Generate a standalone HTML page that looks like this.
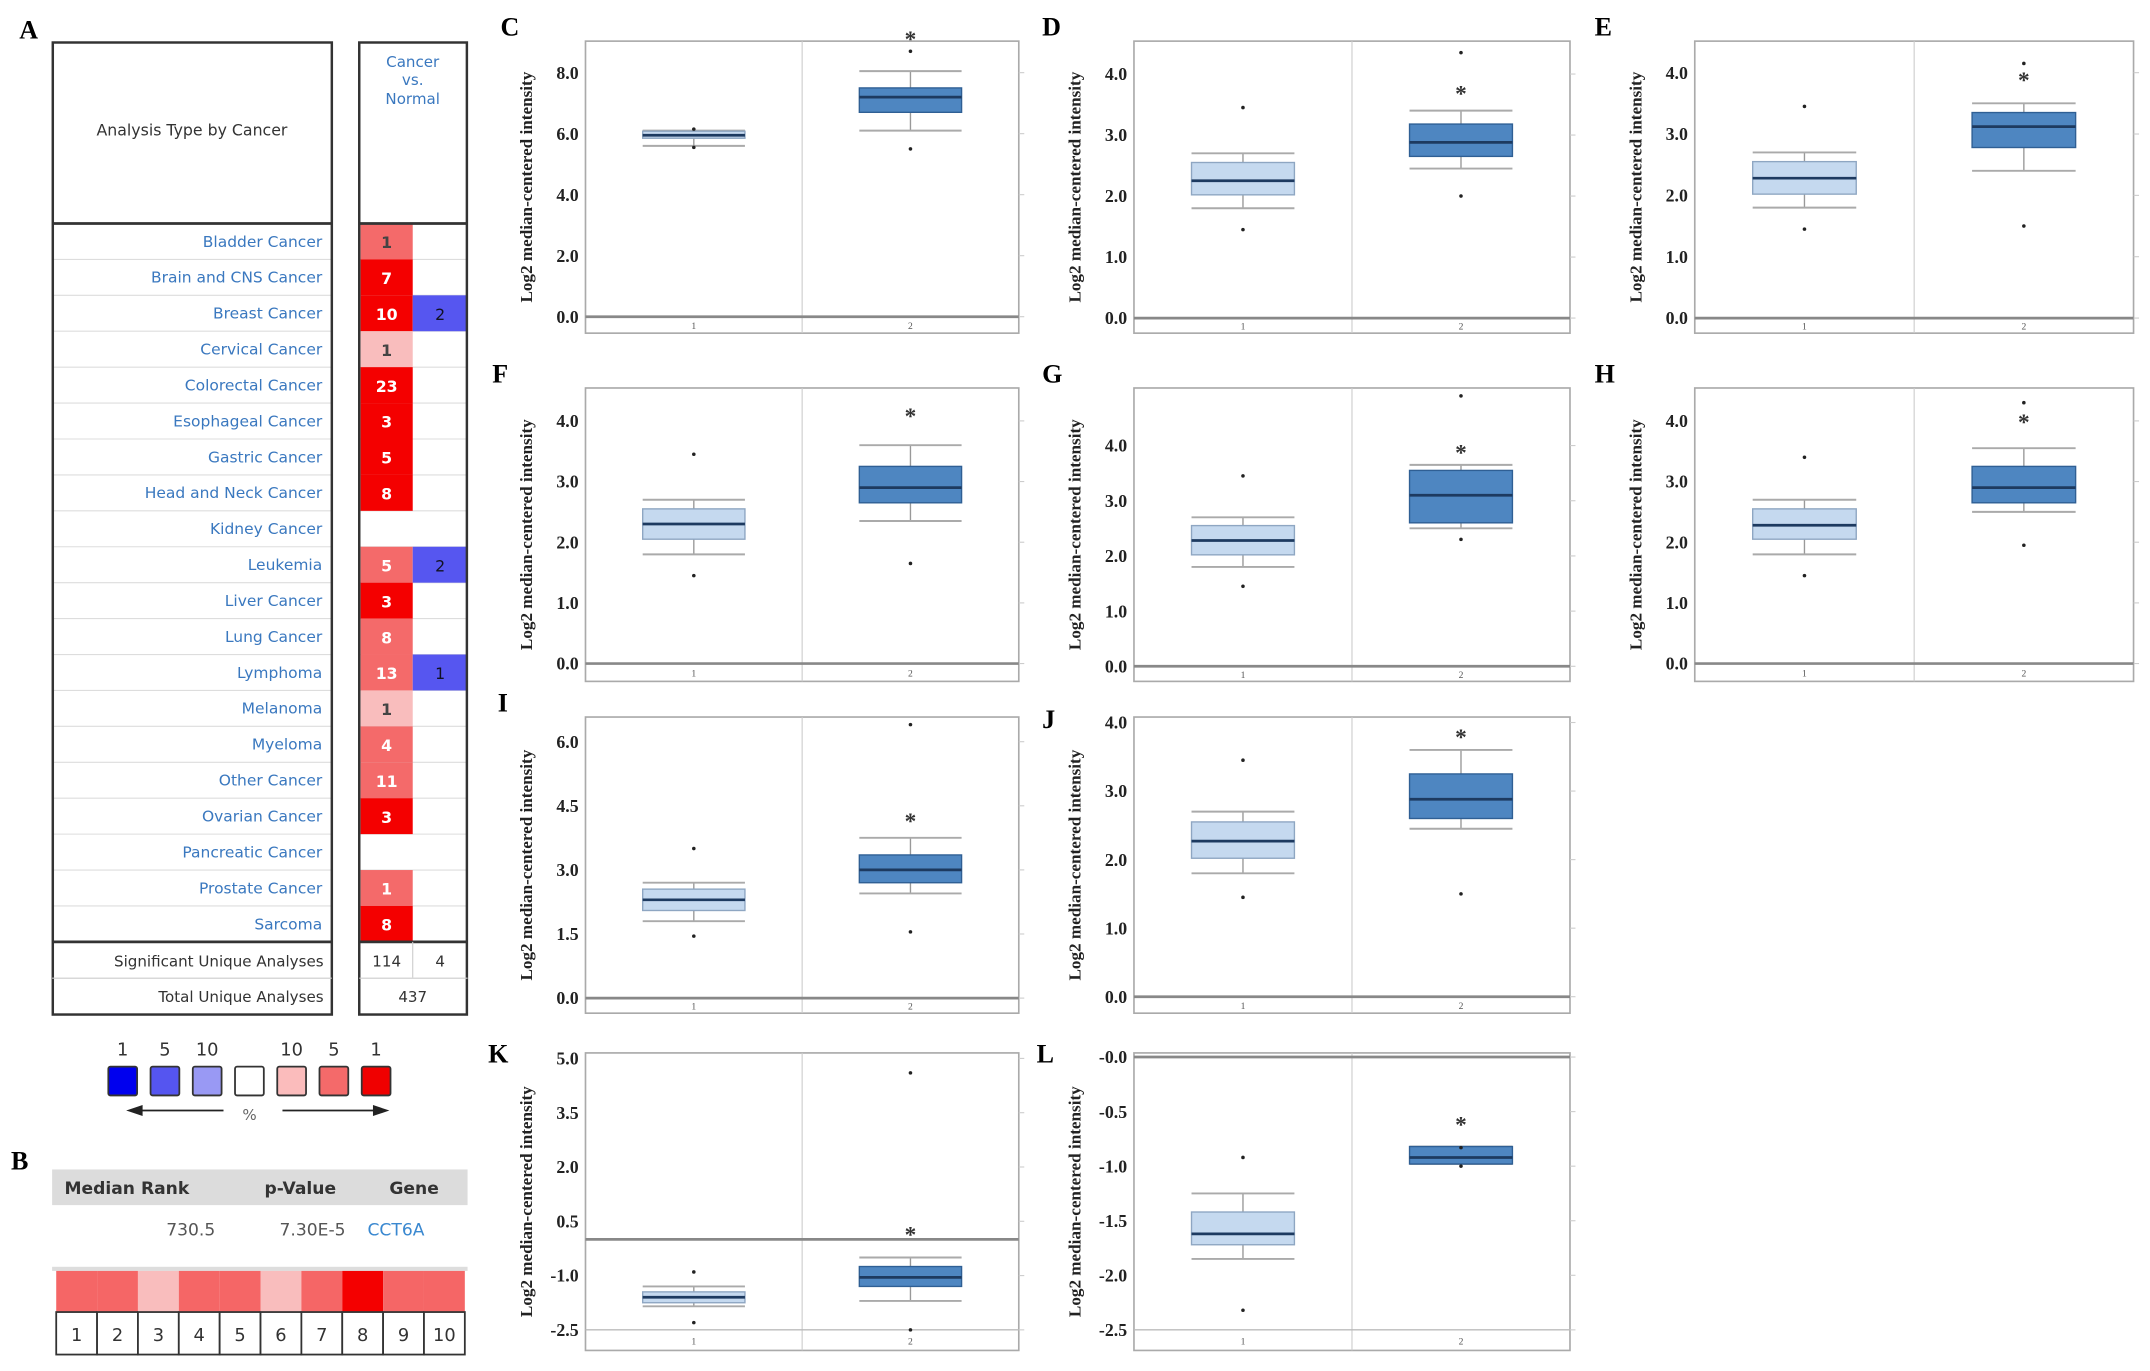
<!DOCTYPE html>
<html><head><meta charset="utf-8"><style>
html,body{margin:0;padding:0;background:#fff;}
svg{display:block;}
.lbl{font-family:"Liberation Serif",serif;font-weight:bold;}
.tbl{font-family:"DejaVu Sans","Liberation Sans",sans-serif;}
</style></head><body>
<svg id="fig" width="2150" height="1371" viewBox="0 0 1568 1000" preserveAspectRatio="none" xmlns="http://www.w3.org/2000/svg">
<rect x="0" y="0" width="1568" height="1000" fill="#fff"/>
</svg>
<script>
// ---------- Panel A data ----------
const cancerTypes = ['Bladder Cancer','Brain and CNS Cancer','Breast Cancer','Cervical Cancer','Colorectal Cancer','Esophageal Cancer','Gastric Cancer','Head and Neck Cancer','Kidney Cancer','Leukemia','Liver Cancer','Lung Cancer','Lymphoma','Melanoma','Myeloma','Other Cancer','Ovarian Cancer','Pancreatic Cancer','Prostate Cancer','Sarcoma'];
const upCounts = [1,7,10,1,23,3,5,8,0,5,3,8,13,1,4,11,3,0,1,8];
const upLevel = [2,3,3,1,3,3,3,3,0,2,3,2,2,1,2,2,3,0,2,3];
const downCounts = [0,0,2,0,0,0,0,0,0,2,0,0,1,0,0,0,0,0,0,0];
const legendLabels = ['1','5','10','','10','5','1'];
// ---------- Panel B data ----------
const rankCols = ['1','2','3','4','5','6','7','8','9','10'];
const rankLevel = [2,2,1,2,2,1,2,3,2,2];
// ---------- Box plot data: [lowWhisker, q1, median, q3, highWhisker] ----------
const panelNames = ['C','D','E','F','G','H','I','J','K','L'];
const normalStats = [[5.6,5.85,5.95,6.08,6.1],[1.8,2.02,2.25,2.55,2.7],[1.8,2.02,2.28,2.55,2.7],[1.8,2.05,2.3,2.55,2.7],[1.8,2.02,2.28,2.55,2.7],[1.8,2.05,2.28,2.55,2.7],[1.8,2.05,2.3,2.55,2.7],[1.8,2.02,2.27,2.55,2.7],[-1.85,-1.75,-1.6,-1.45,-1.3],[-1.85,-1.72,-1.62,-1.42,-1.25]];
const cancerStats = [[6.1,6.7,7.2,7.5,8.05],[2.45,2.65,2.88,3.18,3.4],[2.4,2.78,3.12,3.35,3.5],[2.35,2.65,2.9,3.25,3.6],[2.5,2.6,3.1,3.55,3.65],[2.5,2.65,2.9,3.25,3.55],[2.45,2.7,3.0,3.35,3.75],[2.45,2.6,2.88,3.25,3.6],[-1.7,-1.3,-1.05,-0.75,-0.5],[-0.98,-0.98,-0.92,-0.82,-0.82]];
const normalOutliers = [[6.15,5.55],[3.45,1.45],[3.45,1.45],[3.45,1.45],[3.45,1.45],[3.4,1.45],[3.5,1.45],[3.45,1.45],[-0.9,-2.3],[-0.92,-2.32]];
const cancerOutliers = [[8.7,5.5],[4.35,2.0],[4.15,1.5],[1.65],[4.9,2.3],[4.3,1.95],[6.4,1.55],[1.5],[4.6,-2.5],[-0.83,-1.0]];
const starValues = [9.25,3.75,3.95,4.15,3.95,4.05,4.25,3.85,0.25,-0.58];
const tickValues = [[0,2,4,6,8],[0,1,2,3,4],[0,1,2,3,4],[0,1,2,3,4],[0,1,2,3,4],[0,1,2,3,4],[0,1.5,3,4.5,6],[0,1,2,3,4],[-2.5,-1,0.5,2,3.5,5],[-2.5,-2,-1.5,-1,-0.5,0]];
const tickLabels = [['0.0','2.0','4.0','6.0','8.0'],['0.0','1.0','2.0','3.0','4.0'],['0.0','1.0','2.0','3.0','4.0'],['0.0','1.0','2.0','3.0','4.0'],['0.0','1.0','2.0','3.0','4.0'],['0.0','1.0','2.0','3.0','4.0'],['0.0','1.5','3.0','4.5','6.0'],['0.0','1.0','2.0','3.0','4.0'],['-2.5','-1.0','0.5','2.0','3.5','5.0'],['-2.5','-2.0','-1.5','-1.0','-0.5','-0.0']];
const groupLabels = ['1','2'];

const NS='http://www.w3.org/2000/svg';
const svg=document.getElementById('fig');
function mk(tag,attrs,parent,text){const e=document.createElementNS(NS,tag);for(const k in attrs)e.setAttribute(k,attrs[k]);if(text!==undefined)e.textContent=text;(parent||svg).appendChild(e);return e;}

// ---------- layout (positions only) ----------
const layouts = {
 C:{x0:427,x1:743,y0:30,y1:243,d:[0,8],r:[231,53],base:0},
 D:{x0:827,x1:1145,y0:30,y1:243,d:[0,4],r:[232,54],base:0},
 E:{x0:1236,x1:1556,y0:30,y1:243,d:[0,4],r:[232,53],base:0},
 F:{x0:427,x1:743,y0:283,y1:497,d:[0,4],r:[484,307],base:0},
 G:{x0:827,x1:1145,y0:283,y1:497,d:[0,4],r:[486,325],base:0},
 H:{x0:1236,x1:1556,y0:283,y1:497,d:[0,4],r:[484,307],base:0},
 I:{x0:427,x1:743,y0:523,y1:739,d:[0,6],r:[728,541],base:0},
 J:{x0:827,x1:1145,y0:523,y1:739,d:[0,4],r:[727,527],base:0},
 K:{x0:427,x1:743,y0:768,y1:985,d:[-2.5,5],r:[970,772],base:-2.5},
 L:{x0:827,x1:1145,y0:768,y1:985,d:[-2.5,0],r:[970,771],base:-2.5}
};
const labelPos = {C:[365,26],D:[760,26],E:[1163,26],F:[359,279],G:[760,279],H:[1163,279],I:[363,519],J:[760,531],K:[356,775],L:[756,775]};

panelNames.forEach((p,i)=>{
  const L=layouts[p];
  const y=v=>L.r[0]+(v-L.d[0])*(L.r[1]-L.r[0])/(L.d[1]-L.d[0]);
  const w=L.x1-L.x0;
  const cx=[L.x0+w*0.25,L.x0+w*0.75];
  const hw=w*0.118;
  const g=mk('g',{});
  
  
  const lab=mk('text',{x:labelPos[p][0],y:labelPos[p][1],'font-size':19,class:'lbl'},g,p);
  
  
  const frame=mk('rect',{x:L.x0,y:L.y0,width:w,height:L.y1-L.y0,fill:'#fff',stroke:'#aaa','stroke-width':1.2},g);
  
  
  mk('line',{x1:(L.x0+L.x1)/2,x2:(L.x0+L.x1)/2,y1:L.y0,y2:L.y1,stroke:'#ccc','stroke-width':0.8},g);
  for(let k=0;k<tickValues[i].length;k++){const ty=y(tickValues[i][k]);mk('line',{x1:L.x1,x2:L.x1+4,y1:ty,y2:ty,stroke:'#ccc','stroke-width':0.8},g);}
  const by=y(L.base);
  mk('line',{x1:L.x0,x2:L.x1,y1:by,y2:by,stroke:L.base===0?'#888':'#bbb','stroke-width':L.base===0?2:1},g);
  if(L.base!==0 && L.d[0]<0 && L.d[1]>0){const zy=y(0);mk('line',{x1:L.x0,x2:L.x1,y1:zy,y2:zy,stroke:'#888','stroke-width':2},g);}
  if(L.d[1]===0){mk('line',{x1:L.x0,x2:L.x1,y1:y(0),y2:y(0),stroke:'#888','stroke-width':2},g);}
  tickValues[i].forEach((v,k)=>{
    const t=mk('text',{x:L.x0-5,y:y(v)+4.5,'font-size':13,'text-anchor':'end',class:'lbl',fill:'#222'},g,tickLabels[i][k]);
    
    
  });
  const ytitle=mk('text',{x:0,y:0,'font-size':12.5,'text-anchor':'middle',class:'lbl',fill:'#222',transform:`translate(${L.x0-39},${(L.y0+L.y1)/2}) rotate(-90)`},g,'Log2 median-centered intensity');
  
  
  groupLabels.forEach((gl,k)=>{const t=mk('text',{x:cx[k],y:(by+L.y1)/2+3,'font-size':7,'text-anchor':'middle',fill:'#555','font-family':'Liberation Serif,serif'},g,gl);
    
    });
  [normalStats[i],cancerStats[i]].forEach((s,k)=>{
    const fill=k===0?'#c5d9ef':'#4e86c1', stroke=k===0?'#8ea6c2':'#2f5f94';
    const bg=mk('g',{},g);
    
    
    mk('line',{x1:cx[k],x2:cx[k],y1:y(s[0]),y2:y(s[4]),stroke:'#999','stroke-width':1},bg);
    mk('line',{x1:cx[k]-hw,x2:cx[k]+hw,y1:y(s[0]),y2:y(s[0]),stroke:'#aaa','stroke-width':1.4},bg);
    mk('line',{x1:cx[k]-hw,x2:cx[k]+hw,y1:y(s[4]),y2:y(s[4]),stroke:'#aaa','stroke-width':1.4},bg);
    mk('rect',{x:cx[k]-hw,y:y(s[3]),width:hw*2,height:Math.max(1,y(s[1])-y(s[3])),fill:fill,stroke:stroke,'stroke-width':1},bg);
    mk('line',{x1:cx[k]-hw,x2:cx[k]+hw,y1:y(s[2]),y2:y(s[2]),stroke:'#1d3a60','stroke-width':2},bg);
  });
  [normalOutliers[i],cancerOutliers[i]].forEach((o,k)=>{
    o.forEach(v=>{const c=mk('circle',{cx:cx[k],cy:y(v),r:1.3,fill:'#222'},g);
      
      });
  });
  const st=mk('text',{x:cx[1],y:y(starValues[i])+9,'font-size':17,'text-anchor':'middle',class:'lbl',fill:'#333'},g,'*');
  
  
});

// ---------- Panel A ----------
const ga=mk('g',{});


const la=mk('text',{x:14,y:28,'font-size':19,class:'lbl'},ga,'A');


const redCol={1:'#f9bdbd',2:'#f46a6a',3:'#f40000'};
const rowTop=163,rowH=26.2;
cancerTypes.forEach((c,i)=>{
  const ry=rowTop+i*rowH;
  mk('line',{x1:38,x2:242,y1:ry+rowH,y2:ry+rowH,stroke:'#ddd','stroke-width':0.8},ga);
  mk('line',{x1:262,x2:341,y1:ry+rowH,y2:ry+rowH,stroke:'#ddd','stroke-width':0.8},ga);
  const t=mk('text',{x:235,y:ry+17,'font-size':11.3,'text-anchor':'end',fill:'#3a78bf',class:'tbl'},ga,c);
  
  
  if(upCounts[i]>0){
    const r=mk('rect',{x:263,y:ry,width:38,height:rowH,fill:redCol[upLevel[i]]},ga);
    
    
    mk('text',{x:282,y:ry+18,'font-size':11.5,'text-anchor':'middle',fill:(upLevel[i]===1||i===0)?'#444':'#fff',class:'tbl','font-weight':'bold'},ga,String(upCounts[i]));
  }
  if(downCounts[i]>0){
    const r=mk('rect',{x:301,y:ry,width:39,height:rowH,fill:'#5656f0'},ga);
    
    
    mk('text',{x:321,y:ry+18,'font-size':11.5,'text-anchor':'middle',fill:'#112',class:'tbl'},ga,String(downCounts[i]));
  }
});
mk('rect',{x:38.5,y:31,width:203.5,height:709,fill:'none',stroke:'#333','stroke-width':1.8},ga);
mk('rect',{x:262,y:31,width:78.5,height:709,fill:'none',stroke:'#333','stroke-width':1.8},ga);
mk('line',{x1:38,x2:242,y1:163,y2:163,stroke:'#333','stroke-width':2},ga);
mk('line',{x1:262,x2:341,y1:163,y2:163,stroke:'#333','stroke-width':2},ga);
mk('line',{x1:38,x2:242,y1:687,y2:687,stroke:'#333','stroke-width':2},ga);
mk('line',{x1:262,x2:341,y1:687,y2:687,stroke:'#333','stroke-width':2},ga);
mk('line',{x1:38,x2:242,y1:713.5,y2:713.5,stroke:'#ccc','stroke-width':0.8},ga);
mk('line',{x1:262,x2:341,y1:713.5,y2:713.5,stroke:'#ccc','stroke-width':0.8},ga);
mk('line',{x1:301,x2:301,y1:687,y2:713,stroke:'#ccc','stroke-width':0.8},ga);
mk('text',{x:140,y:99,'font-size':11.5,'text-anchor':'middle',fill:'#333',class:'tbl'},ga,'Analysis Type by Cancer');
mk('text',{x:301,y:49,'font-size':11,'text-anchor':'middle',fill:'#3a78bf',class:'tbl'},ga,'Cancer');
mk('text',{x:301,y:62,'font-size':11,'text-anchor':'middle',fill:'#3a78bf',class:'tbl'},ga,'vs.');
mk('text',{x:301,y:76,'font-size':11,'text-anchor':'middle',fill:'#3a78bf',class:'tbl'},ga,'Normal');
mk('text',{x:236,y:705,'font-size':11,'text-anchor':'end',fill:'#333',class:'tbl'},ga,'Significant Unique Analyses');
mk('text',{x:236,y:731,'font-size':11,'text-anchor':'end',fill:'#333',class:'tbl'},ga,'Total Unique Analyses');
mk('text',{x:282,y:705,'font-size':11,'text-anchor':'middle',fill:'#333',class:'tbl'},ga,'114');
mk('text',{x:321,y:705,'font-size':11,'text-anchor':'middle',fill:'#333',class:'tbl'},ga,'4');
mk('text',{x:301,y:731,'font-size':11,'text-anchor':'middle',fill:'#333',class:'tbl'},ga,'437');
// legend
const legCols=['#0000ee','#5555f0','#9999f4','#ffffff','#fbbcbc','#f46a6a','#f00000'];
const gl=mk('g',{});


legCols.forEach((c,k)=>{
  const lx=79+k*30.8;
  mk('rect',{x:lx,y:778,width:21,height:21,fill:c,stroke:'#333','stroke-width':1.3,rx:1.5},gl);
  mk('text',{x:lx+10.5,y:770,'font-size':13,'text-anchor':'middle',fill:'#333',class:'tbl'},gl,legendLabels[k]);
});
mk('line',{x1:100,x2:163,y1:810,y2:810,stroke:'#222','stroke-width':1.3},gl);
mk('polygon',{points:'92,810 104,806 104,814',fill:'#222'},gl);
mk('line',{x1:206,x2:276,y1:810,y2:810,stroke:'#222','stroke-width':1.3},gl);
mk('polygon',{points:'284,810 272,806 272,814',fill:'#222'},gl);
mk('text',{x:182,y:817,'font-size':11,'text-anchor':'middle',fill:'#666',class:'tbl'},gl,'%');

// ---------- Panel B ----------
const gb=mk('g',{});


const lb=mk('text',{x:8,y:853,'font-size':19,class:'lbl'},gb,'B');


mk('rect',{x:38,y:853,width:303,height:26,fill:'#dcdcdc'},gb);
mk('text',{x:47,y:871,'font-size':12.5,'font-weight':'bold',fill:'#333',class:'tbl'},gb,'Median Rank');
mk('text',{x:219,y:871,'font-size':12.5,'font-weight':'bold','text-anchor':'middle',fill:'#333',class:'tbl'},gb,'p-Value');
mk('text',{x:302,y:871,'font-size':12.5,'font-weight':'bold','text-anchor':'middle',fill:'#333',class:'tbl'},gb,'Gene');
mk('text',{x:157,y:901,'font-size':12.5,'text-anchor':'end',fill:'#555',class:'tbl'},gb,'730.5');
mk('text',{x:252,y:901,'font-size':12.5,'text-anchor':'end',fill:'#555',class:'tbl'},gb,'7.30E-5');
const gene=mk('text',{x:268,y:901,'font-size':12.5,fill:'#3a88d0',class:'tbl'},gb,'CCT6A');


mk('rect',{x:38,y:924,width:303,height:3,fill:'#ddd'},gb);
rankCols.forEach((r,k)=>{
  const cx0=41+k*29.8;
  const cell=mk('rect',{x:cx0,y:927,width:29.8,height:30,fill:rankLevel[k]===2?'#f56666':redCol[rankLevel[k]]},gb);
  
  
  mk('rect',{x:cx0,y:957,width:29.8,height:31,fill:'#fff',stroke:'#333','stroke-width':1.3},gb);
  mk('text',{x:cx0+14.9,y:978,'font-size':13,'text-anchor':'middle',fill:'#333',class:'tbl'},gb,r);
});
</script>
</body></html>
